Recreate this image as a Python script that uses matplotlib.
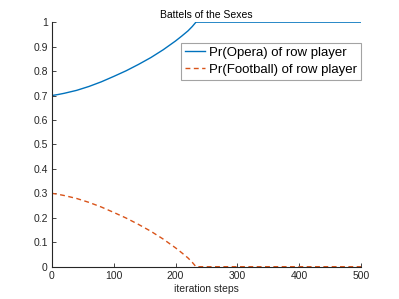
import matplotlib
matplotlib.use("Agg")
import matplotlib.pyplot as plt
import numpy as np

plt.rcParams['font.family'] = ['Liberation Sans', 'DejaVu Sans']

# iteration steps and probability of Football
steps = [0, 10, 20, 30, 40, 60, 80, 100, 120, 140, 160, 180, 200, 210, 220, 227, 233, 300, 400, 500]
p_football = [0.300, 0.296, 0.291, 0.285, 0.279, 0.263, 0.244, 0.222, 0.199, 0.173, 0.145,
              0.113, 0.077, 0.057, 0.036, 0.018, 0.0, 0.0, 0.0, 0.0]
p_opera = [1 - v for v in p_football]

x_ticks = [0, 100, 200, 300, 400, 500]
y_ticks = [0, 0.1, 0.2, 0.3, 0.4, 0.5, 0.6, 0.7, 0.8, 0.9, 1]
y_labels = ['0', '0.1', '0.2', '0.3', '0.4', '0.5', '0.6', '0.7', '0.8', '0.9', '1']

axcol = '#262626'
fig = plt.figure(figsize=(3.99, 2.99), dpi=100)
ax = fig.add_axes([0.13, 0.108, 0.775, 0.818])

ax.plot(steps, p_opera, color='#0072BD', lw=1.0, label='Pr(Opera) of row player')
ax.plot(steps, p_football, color='#D95319', lw=1.0, ls=(0, (3.5, 2.5)),
        label='Pr(Football) of row player')

ax.set_xlim(0, 500)
ax.set_ylim(0, 1)
ax.set_xticks(x_ticks)
ax.set_yticks(y_ticks)
ax.set_yticklabels(y_labels)
for s in ['top', 'right']:
    ax.spines[s].set_visible(False)
for s in ['left', 'bottom']:
    ax.spines[s].set_color(axcol)
    ax.spines[s].set_linewidth(0.8)
ax.tick_params(direction='in', length=3, width=0.6, colors=axcol, labelsize=7.5, pad=3)

ax.set_title('Battels of the Sexes', fontsize=7.5, pad=3)
ax.set_xlabel('iteration steps', fontsize=7.5, color=axcol, labelpad=2)

leg = ax.legend(loc='upper right', bbox_to_anchor=(1.0, 0.915), fontsize=9.5,
                frameon=True, fancybox=False, edgecolor='#8c8c8c',
                handlelength=1.5, handletextpad=0.3, borderpad=0.3,
                labelspacing=0.35, borderaxespad=0)
leg.get_frame().set_linewidth(0.8)

fig.savefig('out.png', dpi=100)
